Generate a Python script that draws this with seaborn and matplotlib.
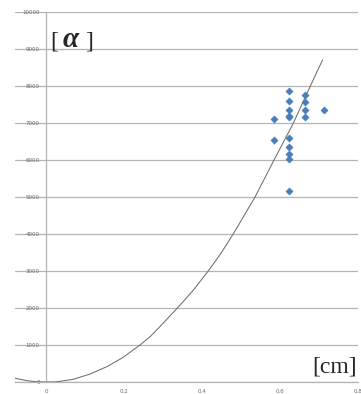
import pandas as pd
import matplotlib.pyplot as plt
import seaborn as sns

# measured points (thickness in cm vs value)
point_x = [0.623, 0.663, 0.623, 0.663, 0.623, 0.663, 0.712, 0.584, 0.623, 0.623,
           0.663, 0.584, 0.623, 0.623, 0.623, 0.623, 0.623]
point_y = [7865, 7765, 7586, 7559, 7343, 7351, 7343, 7100, 7154, 7200,
           7154, 6532, 6595, 6343, 6154, 6027, 5154]

# trend curve
curve_x = [-0.079, -0.05, -0.024, 0.0, 0.027, 0.070, 0.113, 0.156, 0.198, 0.241,
           0.267, 0.292, 0.337, 0.378, 0.416, 0.450, 0.480, 0.536, 0.587, 0.634,
           0.677, 0.709]
curve_y = [100, 38, 6, 0, 4, 73, 216, 414, 667, 1000,
           1225, 1495, 2000, 2486, 3000, 3500, 4000, 5000, 6046, 6992,
           7981, 8703]

x_ticks = [0, 0.2, 0.4, 0.6, 0.8]
x_tick_labels = ["0", "0.2", "0.4", "0.6", "0.8"]
y_ticks = list(range(0, 10001, 1000))

points = pd.DataFrame({"x": point_x, "y": point_y})
curve = pd.DataFrame({"x": curve_x, "y": curve_y})

sns.set_style("white")

fig = plt.figure(figsize=(3.61, 3.94), dpi=100)
ax = fig.add_axes([15 / 361, 1 - 382 / 394, 343 / 361, 370 / 394])

sns.lineplot(data=curve, x="x", y="y", sort=False, estimator=None,
             color="#6e6e6e", linewidth=0.75, ax=ax, zorder=3)
sns.scatterplot(data=points, x="x", y="y", marker="D", s=14,
                color="#4a7ebb", edgecolor="#4a7ebb", linewidth=0.3, ax=ax, zorder=4)

ax.set_xlim(-0.0795, 0.8)
ax.set_ylim(0, 10000)
ax.set_xticks(x_ticks)
ax.set_xticklabels(x_tick_labels)
ax.set_yticks(y_ticks)
ax.set_xlabel("")
ax.set_ylabel("")

ax.grid(axis="y", color="#b4b4b4", linewidth=0.9)
ax.grid(axis="x", visible=False)
ax.set_axisbelow(True)

for side in ["top", "right"]:
    ax.spines[side].set_visible(False)
ax.spines["left"].set_position(("data", 0))
ax.spines["left"].set_color("#b4b4b4")
ax.spines["left"].set_linewidth(0.9)
ax.spines["bottom"].set_color("#b4b4b4")
ax.spines["bottom"].set_linewidth(0.9)

ax.tick_params(axis="y", length=0, pad=4.5, labelsize=4.0, labelcolor="#6a6a6a")
ax.tick_params(axis="x", length=0, pad=5, labelsize=4.0, labelcolor="#6a6a6a")

# unit labels
ax.text(0.102, 0.905, "[", transform=ax.transAxes, fontsize=17,
        family="Liberation Serif", ha="left", va="baseline")
ax.text(0.138, 0.905, "α", transform=ax.transAxes, fontsize=21, style="italic",
        weight="bold", family="Liberation Serif", ha="left", va="baseline")
ax.text(0.205, 0.905, "]", transform=ax.transAxes, fontsize=17,
        family="Liberation Serif", ha="left", va="baseline")
ax.text(0.998, 0.025, "[cm]", transform=ax.transAxes, fontsize=17,
        family="Liberation Serif", ha="right", va="baseline")

plt.savefig("out.png", dpi=100)
